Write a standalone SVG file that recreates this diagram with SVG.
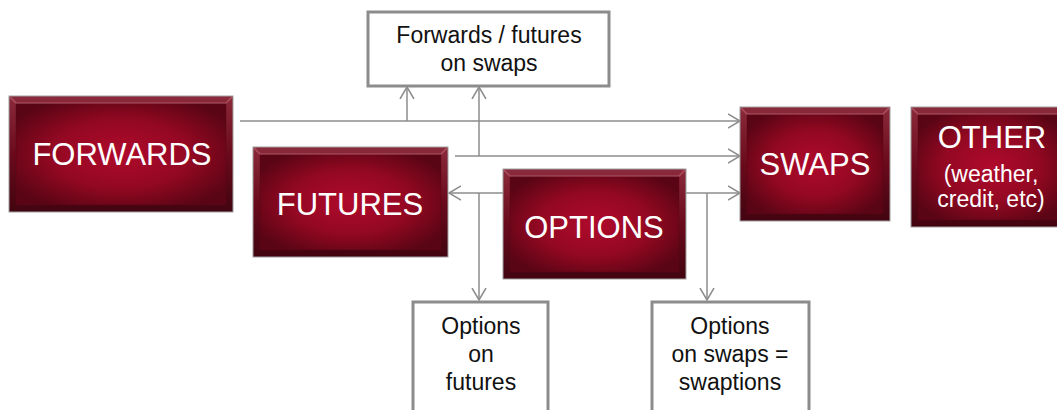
<svg xmlns="http://www.w3.org/2000/svg" width="1057" height="410" viewBox="0 0 1057 410">
<style>
.node{stroke:#a0a0a0;stroke-width:1}
.outer{fill:url(#edge)}
.inner{fill:url(#face);stroke:#5a0714;stroke-opacity:0.35;stroke-width:1}
.hl{fill:none;stroke:#c9707e;stroke-opacity:0.55;stroke-width:1.5}
.big{font-family:"Liberation Sans",Arial,sans-serif;font-size:31px;fill:#ffffff;text-anchor:middle}
.mid{font-family:"Liberation Sans",Arial,sans-serif;font-size:23px;fill:#ffffff;text-anchor:middle}
.box{fill:#ffffff;stroke:#8c8c8c;stroke-width:3}
.lbl{font-family:"Liberation Sans",Arial,sans-serif;font-size:23px;fill:#111111;text-anchor:middle}
.conn{fill:none;stroke:#8c8c8c;stroke-width:1.5}
</style>
<defs>
<radialGradient id="face" cx="0.5" cy="0.5" r="0.6">
<stop offset="0" stop-color="#b00a2c"/>
<stop offset="0.55" stop-color="#930822"/>
<stop offset="1" stop-color="#5a0515"/>
</radialGradient>
<linearGradient id="edge" x1="0" y1="0" x2="0" y2="1">
<stop offset="0" stop-color="#8a2a3a"/>
<stop offset="0.5" stop-color="#6a0a1c"/>
<stop offset="1" stop-color="#420410"/>
</linearGradient>
<marker id="arr" markerUnits="userSpaceOnUse" markerWidth="16" markerHeight="18" refX="12" refY="8" orient="auto" viewBox="0 0 16 16">
<path d="M0,1 L12,8 L0,15" fill="none" stroke="#8c8c8c" stroke-width="1.5"/>
</marker>
</defs>

<g id="connectors">
<path class="conn" d="M240,121 H740" marker-end="url(#arr)"/>
<path class="conn" d="M407,121 V87" marker-end="url(#arr)"/>
<path class="conn" d="M455,156 H740" marker-end="url(#arr)"/>
<path class="conn" d="M479,156 V87" marker-end="url(#arr)"/>
<path class="conn" d="M503,193 H449" marker-end="url(#arr)"/>
<path class="conn" d="M479,193 V300" marker-end="url(#arr)"/>
<path class="conn" d="M686,193 H740" marker-end="url(#arr)"/>
<path class="conn" d="M707,193 V300" marker-end="url(#arr)"/>
</g>

<g id="forwards">
<rect class="node outer" x="9" y="96" width="224" height="116"/>
<rect class="inner" x="16" y="103" width="210" height="102"/>
<path class="hl" d="M10,97 L16,103 H226 L232,97"/>
<text class="big" x="122" y="165">FORWARDS</text>
</g>

<g id="futures">
<rect class="node outer" x="253" y="147" width="195" height="110"/>
<rect class="inner" x="260" y="154" width="181" height="96"/>
<path class="hl" d="M254,148 L260,154 H441 L447,148"/>
<text class="big" x="350" y="215">FUTURES</text>
</g>

<g id="options">
<rect class="node outer" x="503" y="169" width="183" height="110"/>
<rect class="inner" x="510" y="176" width="169" height="96"/>
<path class="hl" d="M504,170 L510,176 H679 L685,170"/>
<text class="big" x="594" y="238">OPTIONS</text>
</g>

<g id="swaps">
<rect class="node outer" x="740" y="107" width="150" height="114"/>
<rect class="inner" x="747" y="114" width="136" height="100"/>
<path class="hl" d="M741,108 L747,114 H883 L889,108"/>
<text class="big" x="815" y="175">SWAPS</text>
</g>

<g id="other">
<rect class="node outer" x="911" y="107" width="160" height="120"/>
<rect class="inner" x="918" y="114" width="146" height="106"/>
<path class="hl" d="M912,108 L918,114 H1064 L1070,108"/>
<text class="big" x="992" y="148">OTHER</text>
<text class="mid" x="991" y="182">(weather,</text>
<text class="mid" x="991" y="207">credit, etc)</text>
</g>

<g id="fwd-fut-swaps">
<rect class="box" x="368" y="12" width="241" height="74"/>
<text class="lbl" x="489" y="43">Forwards / futures</text>
<text class="lbl" x="489" y="71">on swaps</text>
</g>

<g id="options-on-futures">
<rect class="box" x="413" y="302" width="135" height="120"/>
<text class="lbl" x="481" y="334">Options</text>
<text class="lbl" x="481" y="362">on</text>
<text class="lbl" x="481" y="390">futures</text>
</g>

<g id="swaptions">
<rect class="box" x="652" y="302" width="157" height="120"/>
<text class="lbl" x="730" y="334">Options</text>
<text class="lbl" x="730" y="362">on swaps =</text>
<text class="lbl" x="730" y="390">swaptions</text>
</g>
</svg>
